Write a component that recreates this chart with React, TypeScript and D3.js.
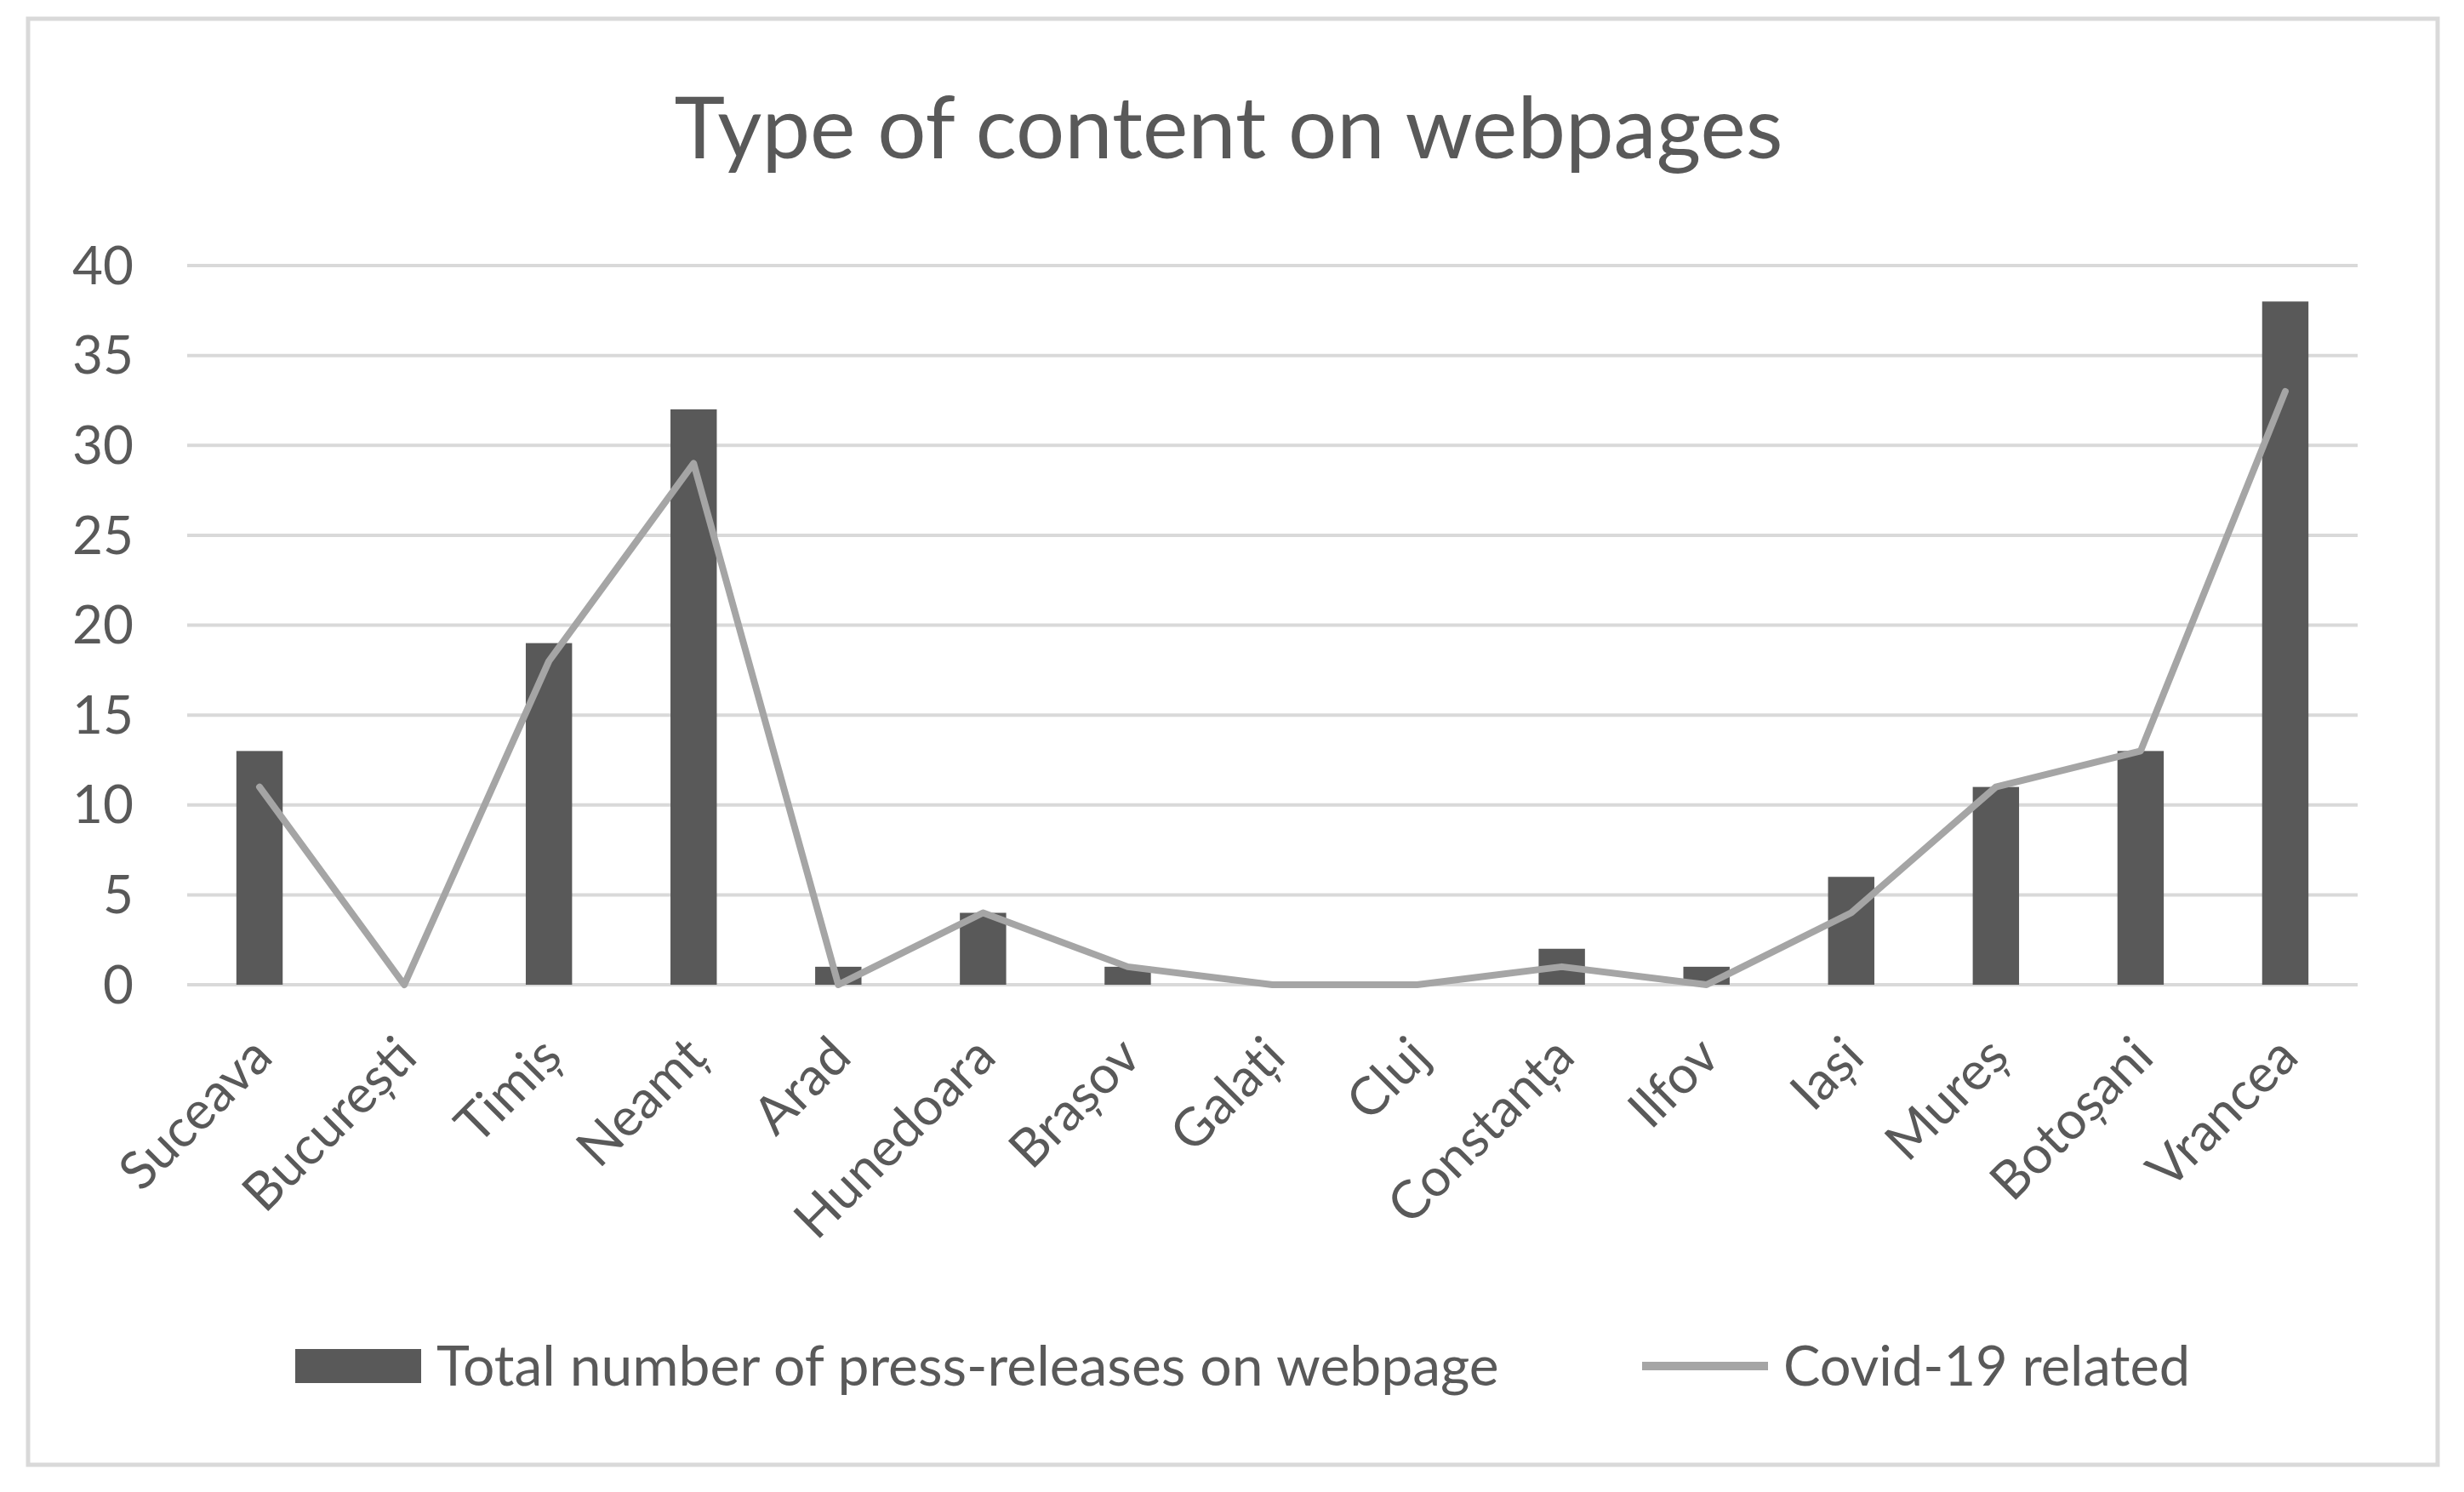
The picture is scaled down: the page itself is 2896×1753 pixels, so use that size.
import React from 'react'
import * as d3 from 'd3'

const counties = ['Suceava', 'București', 'Timiș', 'Neamț', 'Arad', 'Hunedoara', 'Brașov', 'Galați', 'Cluj', 'Constanța', 'Ilfov', 'Iași', 'Mureș', 'Botoșani', 'Vrancea']
const totalReleases = [13, 0, 19, 32, 1, 4, 1, 0, 0, 2, 1, 6, 11, 13, 38]
const covidRelated = [11, 0, 18, 29, 0, 4, 1, 0, 0, 1, 0, 4, 11, 13, 33]
const yTicks = [0, 5, 10, 15, 20, 25, 30, 35, 40]

const width = 2896
const height = 1753
const font = 'Lato, "Open Sans", sans-serif'
const textColor = '#595959'

const margin = { top: 312, bottom: 596, left: 220, right: 125 }

const xScale = d3.scaleBand()
  .domain(counties)
  .range([margin.left, width - margin.right])
  .paddingInner(0.68)
  .paddingOuter(0.34)

const yScale = d3.scaleLinear()
  .domain([0, 40])
  .range([height - margin.bottom, margin.top])

const center = (c: string) => (xScale(c) as number) + xScale.bandwidth() / 2

const covidLine = d3.line<number>()
  .x((_, i) => center(counties[i]))
  .y(d => yScale(d))

export default function App() {
  const plotLeft = margin.left
  const plotRight = width - margin.right
  return (
    <svg width={width} height={height} style={{ position: 'absolute', left: 0, top: 0 }}>
      <rect x={0} y={0} width={width} height={height} fill='#ffffff' />
      <rect x={33} y={22} width={2832} height={1699} fill='#ffffff' stroke='#d9d9d9' strokeWidth={5} />

      <text x={1444} y={186} textAnchor='middle' fontFamily={font} fontSize={101} fill={textColor}>
        Type of content on webpages
      </text>

      {/* gridlines + y labels */}
      {yTicks.map(t => (
        <g key={t}>
          <line x1={plotLeft} x2={plotRight} y1={yScale(t)} y2={yScale(t)} stroke='#d9d9d9' strokeWidth={4} />
          <text x={157} y={yScale(t)} dy='0.35em' textAnchor='end' fontFamily={font} fontSize={62} fill={textColor}>{t}</text>
        </g>
      ))}

      {/* bars */}
      {counties.map((c, i) => (
        <rect key={c}
          x={xScale(c)}
          y={yScale(totalReleases[i])}
          width={xScale.bandwidth()}
          height={yScale(0) - yScale(totalReleases[i])}
          fill='#595959' />
      ))}

      <path d={covidLine(covidRelated) || ''} fill='none' stroke='#a5a5a5' strokeWidth={8} strokeLinejoin='round' strokeLinecap='round' />

      {/* x labels */}
      {counties.map(c => (
        <text key={c}
          transform={`translate(${center(c) + 18},${yScale(0) + 88}) rotate(-45)`}
          textAnchor='end' fontFamily={font} fontSize={62} fill={textColor}>
          {c}
        </text>
      ))}

      {/* legend */}
      <rect x={347} y={1585} width={148} height={40} fill='#595959' />
      <text x={513} y={1605} dy='0.35em' fontFamily={font} fontSize={66} fill={textColor}>
        Total number of press-releases on webpage
      </text>
      <line x1={1930} x2={2078} y1={1605} y2={1605} stroke='#a5a5a5' strokeWidth={10} />
      <text x={2096} y={1605} dy='0.35em' fontFamily={font} fontSize={65} fill={textColor}>
        Covid-19 related
      </text>
    </svg>
  )
}
